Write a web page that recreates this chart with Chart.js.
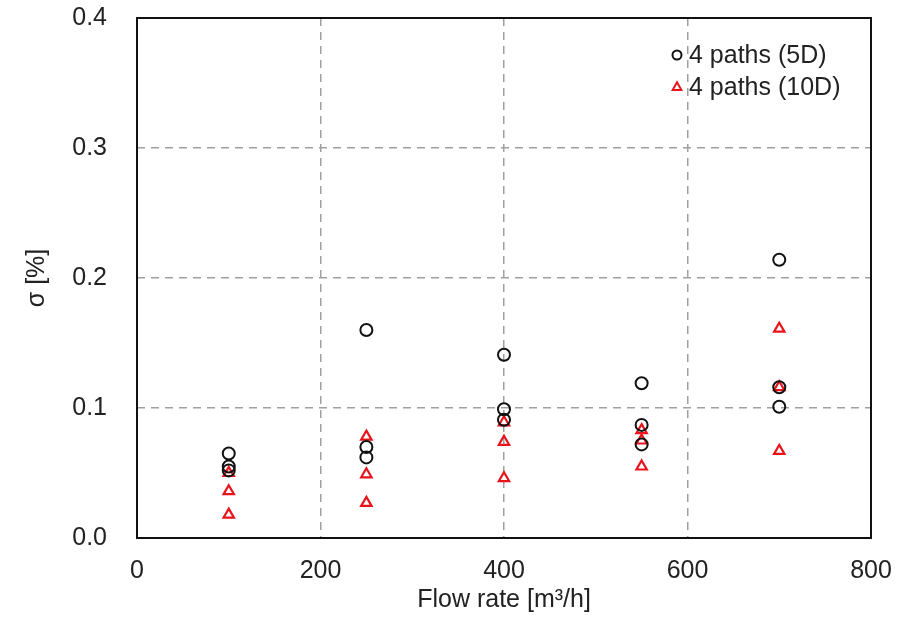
<!DOCTYPE html>
<html>
<head>
<meta charset="utf-8">
<script src="https://cdn.jsdelivr.net/npm/chart.js@4.4.1/dist/chart.umd.min.js"></script>
<style>
  html, body { margin: 0; padding: 0; background: #fff; }
  #wrap { width: 912px; height: 617px; }
</style>
</head>
<body>
<div id="wrap"><canvas id="c" width="912" height="617"></canvas></div>
<script>
// sigma vs flow rate, two mounting distances
const flow5D   = [100, 100, 100, 250, 250, 250, 400, 400, 400, 550, 550, 550, 700, 700, 700];
const sigma5D  = [0.065, 0.055, 0.052, 0.160, 0.070, 0.062, 0.141, 0.099, 0.091, 0.119, 0.087, 0.072, 0.214, 0.116, 0.101];
const flow10D  = [100, 100, 100, 250, 250, 250, 400, 400, 400, 550, 550, 550, 700, 700, 700];
const sigma10D = [0.050, 0.036, 0.018, 0.078, 0.049, 0.027, 0.089, 0.074, 0.046, 0.083, 0.075, 0.055, 0.161, 0.116, 0.067];
const seriesNames = ['4 paths (5D)', '4 paths (10D)'];
const xTicks = [0, 200, 400, 600, 800];
const yTicks = [0.0, 0.1, 0.2, 0.3, 0.4];

const FONT = "'Liberation Sans', Arial, sans-serif";
const TXT = '#222';
const RED = '#e8141c';

const toPts = (xs, ys) => xs.map((x, i) => ({ x, y: ys[i] }));

// frame round the plot area + legend inside top right
const framePlugin = {
  id: 'frame',
  afterDraw(chart) {
    const { ctx, chartArea: a } = chart;
    ctx.save();
    ctx.strokeStyle = '#111';
    ctx.lineWidth = 2;
    ctx.strokeRect(a.left, a.top, a.right - a.left, a.bottom - a.top);

    ctx.font = '25px ' + FONT;
    ctx.textBaseline = 'middle';
    chart.data.datasets.forEach((ds, i) => {
      const y = a.top + 37 + i * 32;
      const x = a.right - 194;
      ctx.strokeStyle = ds.borderColor;
      ctx.lineWidth = 2;
      ctx.beginPath();
      if (ds.pointStyle === 'circle') {
        ctx.arc(x, y, 4.5, 0, Math.PI * 2);
      } else {
        const r = 4.8;
        ctx.moveTo(x, y - r);
        ctx.lineTo(x + r * 0.9, y + r * 0.6);
        ctx.lineTo(x - r * 0.9, y + r * 0.6);
        ctx.closePath();
      }
      ctx.stroke();
      ctx.fillStyle = TXT;
      ctx.fillText(ds.label, x + 12, y + 1);
    });
    ctx.restore();
  }
};

new Chart(document.getElementById('c'), {
  type: 'scatter',
  data: {
    datasets: [
      {
        label: seriesNames[0],
        data: toPts(flow5D, sigma5D),
        pointStyle: 'circle',
        pointRadius: 6,
        pointBorderWidth: 2,
        borderColor: '#111',
        backgroundColor: 'rgba(0,0,0,0)',
      },
      {
        label: seriesNames[1],
        data: toPts(flow10D, sigma10D),
        pointStyle: 'triangle',
        pointRadius: 6,
        pointBorderWidth: 2.2,
        borderColor: RED,
        backgroundColor: 'rgba(0,0,0,0)',
      }
    ]
  },
  options: {
    responsive: false,
    animation: false,
    layout: { padding: { top: 18, right: 41, left: 0, bottom: 0 } },
    plugins: {
      legend: { display: false },
      tooltip: { enabled: false },
    },
    scales: {
      x: {
        type: 'linear',
        min: xTicks[0], max: xTicks[xTicks.length - 1],
        afterBuildTicks: s => { s.ticks = xTicks.map(v => ({ value: v })); },
        afterFit: s => { s.height = 79; s.paddingLeft = 0; s.paddingRight = 0; },
        grid: { color: '#a0a0a0', lineWidth: 1.5, drawTicks: false },
        border: { display: false, dash: [8, 6] },
        ticks: { color: TXT, font: { family: FONT, size: 25 }, padding: 18 },
        title: {
          display: true, text: 'Flow rate [m³/h]', color: TXT,
          font: { family: FONT, size: 25 }, padding: { top: 0, bottom: 2 }
        }
      },
      y: {
        type: 'linear',
        min: yTicks[0], max: yTicks[yTicks.length - 1],
        afterBuildTicks: s => { s.ticks = yTicks.map(v => ({ value: v })); },
        afterFit: s => { s.width = 137; s.paddingTop = 0; s.paddingBottom = 0; },
        grid: { color: '#a0a0a0', lineWidth: 1.5, drawTicks: false },
        border: { display: false, dash: [8, 6] },
        ticks: {
          color: TXT, font: { family: FONT, size: 25 }, padding: 30,
          callback: v => v.toFixed(1)
        },
        title: {
          display: true, text: 'σ [%]', color: TXT,
          font: { family: FONT, size: 25 }, padding: { top: 22, bottom: 0 }
        }
      }
    }
  },
  plugins: [framePlugin]
});
</script>
</body>
</html>
